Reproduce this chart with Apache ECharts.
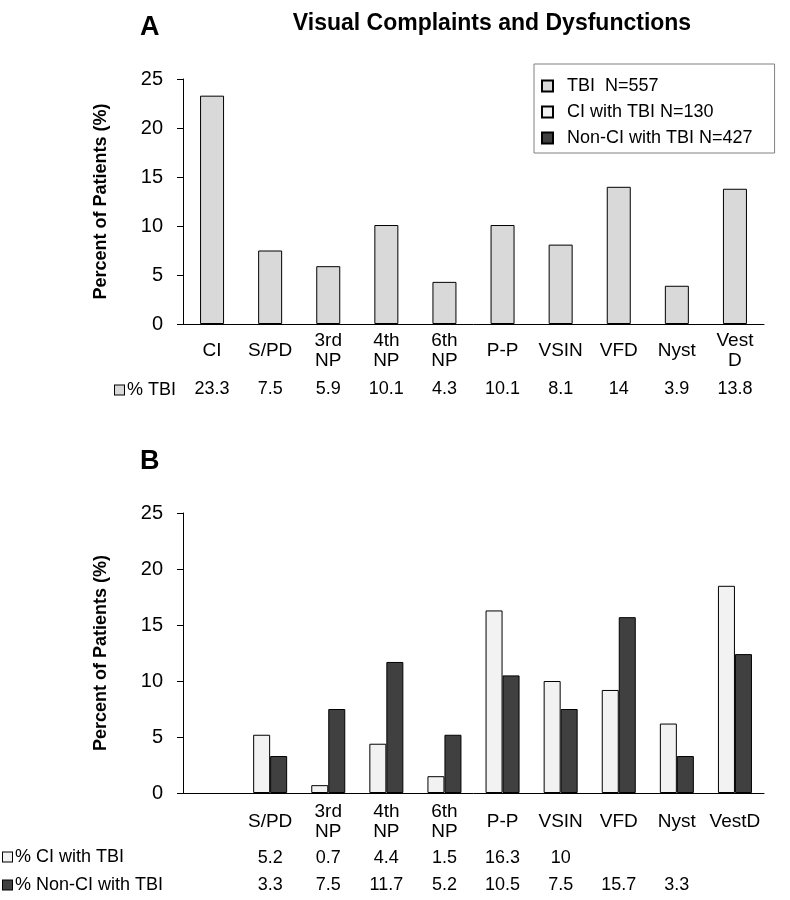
<!DOCTYPE html>
<html>
<head>
<meta charset="utf-8">
<script src="https://cdn.jsdelivr.net/npm/echarts@6/dist/echarts.min.js"></script>
<style>html,body{margin:0;padding:0;background:#fff;}#c{width:790px;height:900px;}</style>
</head>
<body>
<div id="c"></div>
<script>
// ---- data ----
var catsA = ['CI', 'S/PD', '3rd\nNP', '4th\nNP', '6th\nNP', 'P-P', 'VSIN', 'VFD', 'Nyst', 'Vest\nD'];
var tbiValues = [23.3, 7.5, 5.9, 10.1, 4.3, 10.1, 8.1, 14, 3.9, 13.8];
var tbiTable = ['23.3', '7.5', '5.9', '10.1', '4.3', '10.1', '8.1', '14', '3.9', '13.8'];

var catsB = ['', 'S/PD', '3rd\nNP', '4th\nNP', '6th\nNP', 'P-P', 'VSIN', 'VFD', 'Nyst', 'VestD'];
var ciValues = [null, 5.2, 0.7, 4.4, 1.5, 16.3, 10, 9.2, 6.2, 18.5];
var nonCiValues = [null, 3.3, 7.5, 11.7, 5.2, 10.5, 7.5, 15.7, 3.3, 12.4];
var ciTable = ['', '5.2', '0.7', '4.4', '1.5', '16.3', '10', '', '', ''];
var nonCiTable = ['', '3.3', '7.5', '11.7', '5.2', '10.5', '7.5', '15.7', '3.3', ''];

var yTicks = [0, 5, 10, 15, 20, 25];
var legendNames = ['TBI  N=557', 'CI with TBI N=130', 'Non-CI with TBI N=427'];
var rowHeaders = ['% TBI', '% CI with TBI', '% Non-CI with TBI'];
var titleText = 'Visual Complaints and Dysfunctions';
var yName = 'Percent of Patients (%)';

// ---- styles ----
var SANS = "'Liberation Sans', Arial, sans-serif";
var cTBI = '#d9d9d9', cCI = '#f2f2f2', cNon = '#404040';

function yAxisDef(gi) {
  return {
    gridIndex: gi, type: 'value', min: yTicks[0], max: yTicks[yTicks.length - 1], interval: 5,
    axisLine: {show: true, lineStyle: {color: '#000', width: 1}},
    axisTick: {show: true, length: 6, lineStyle: {color: '#000'}},
    splitLine: {show: false},
    axisLabel: {color: '#000', fontFamily: SANS, fontSize: 20, margin: 20},
    name: yName, nameLocation: 'middle', nameGap: 73,
    nameTextStyle: {color: '#000', fontFamily: SANS, fontWeight: 'bold', fontSize: 18}
  };
}
function catAxis(gi, data, margin, showLine, size) {
  return {
    gridIndex: gi, type: 'category', data: data, position: 'bottom',
    axisLine: {show: showLine, onZero: false, lineStyle: {color: '#000', width: 1}},
    axisTick: {show: false},
    axisLabel: {color: '#000', fontFamily: SANS, fontSize: size, margin: margin, verticalAlign: 'middle', interval: 0, lineHeight: 20}
  };
}
function sq(color) {
  return {width: 9, height: 9, backgroundColor: color, borderColor: '#000', borderWidth: 1};
}
function rowHeader(x, y, text, color) {
  return {type: 'text', x: x, y: y, style: {
    text: '{s|}{g|}' + text, fontFamily: SANS, fontSize: 18, fill: '#000', verticalAlign: 'middle',
    rich: {s: sq(color), g: {width: 3}}}};
}

var chart = echarts.init(document.getElementById('c'), null, {renderer: 'canvas'});
chart.setOption({
  animation: false,
  backgroundColor: '#fff',
  title: [{
    text: titleText, left: 487, top: 7, textAlign: 'center',
    textStyle: {fontFamily: SANS, fontWeight: 'bold', fontSize: 23, color: '#000'}
  }],
  legend: {
    data: legendNames, orient: 'vertical', left: 534, top: 64,
    selectedMode: false, icon: 'rect', itemWidth: 11, itemHeight: 11, itemGap: 8,
    padding: [13, 22, 6, 7], borderColor: '#808080', borderWidth: 1,
    textStyle: {fontFamily: SANS, fontSize: 18, color: '#000', padding: [0, 0, 0, 9]}
  },
  grid: [
    {left: 183, right: 26, top: 79, height: 245},
    {left: 183, right: 26, top: 513, height: 280}
  ],
  xAxis: [
    catAxis(0, catsA, 27, true, 19),
    catAxis(0, tbiTable, 65, false, 18),
    catAxis(1, catsB, 29, true, 19),
    catAxis(1, ciTable, 65, false, 18),
    catAxis(1, nonCiTable, 92, false, 18)
  ],
  yAxis: [yAxisDef(0), yAxisDef(1)],
  series: [
    {name: legendNames[0], type: 'bar', xAxisIndex: 0, yAxisIndex: 0, data: tbiValues, barWidth: 24,
     itemStyle: {color: cTBI, borderColor: '#000', borderWidth: 1}},
    {name: legendNames[1], type: 'bar', xAxisIndex: 2, yAxisIndex: 1, data: ciValues, barWidth: 17, barGap: '0%',
     itemStyle: {color: cCI, borderColor: '#000', borderWidth: 1}},
    {name: legendNames[2], type: 'bar', xAxisIndex: 2, yAxisIndex: 1, data: nonCiValues, barWidth: 17, barGap: '0%',
     itemStyle: {color: cNon, borderColor: '#000', borderWidth: 1}}
  ],
  graphic: [
    {type: 'text', x: 140, y: 14, style: {text: 'A', font: 'bold 27px ' + SANS, fill: '#000'}},
    {type: 'text', x: 140, y: 448, style: {text: 'B', font: 'bold 27px ' + SANS, fill: '#000'}},
    rowHeader(115, 390, rowHeaders[0], cTBI),
    rowHeader(3, 857, rowHeaders[1], cCI),
    rowHeader(3, 885, rowHeaders[2], cNon)
  ]
});
</script>
</body>
</html>
